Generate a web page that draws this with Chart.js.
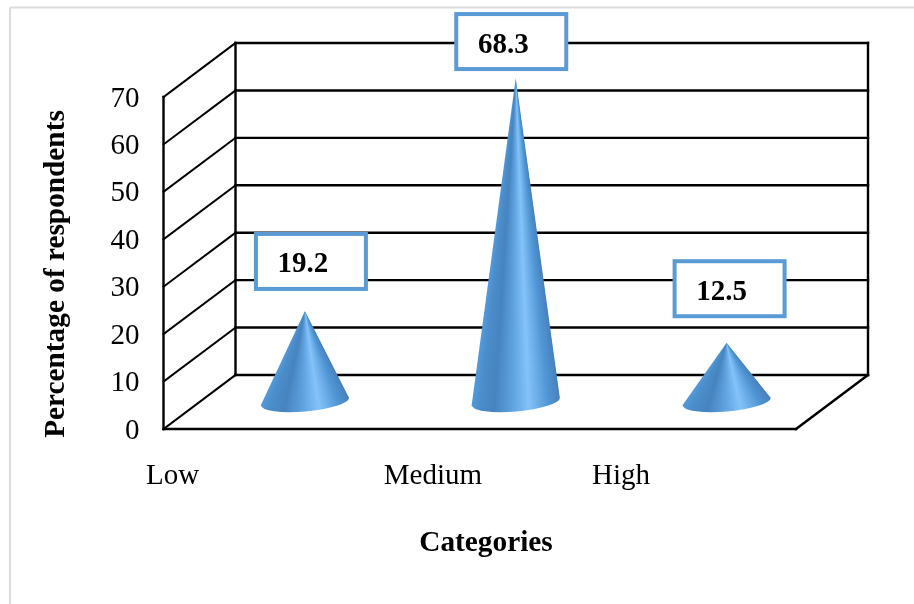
<!DOCTYPE html>
<html>
<head>
<meta charset="utf-8">
<title>Percentage of respondents by category</title>
<style>
    html, body { margin: 0; padding: 0; background: #fff; }
    canvas { display: block; }
</style>
<script src="https://cdn.jsdelivr.net/npm/chart.js@4"></script>
</head>
<body>
<canvas id="chart1" width="914" height="604"></canvas>
<script>
const categories = ['Low', 'Medium', 'High'];
const percentages = [19.2, 68.3, 12.5];

const FONT = '"Liberation Serif", "Times New Roman", serif';
const DEPTH_X = 72;   // how far the back wall sits from the front plane
const DEPTH_Y = -54;
const BOX_BLUE = '#5b9bd5';

// horizontal shift of each category label away from its tick
const labelShift = [-96.4, -46.8, -69.6];
// value box centre relative to the tip of its cone
const boxShift = [[6, -49.5], [-4.5, -36.5], [3, -54]];

// shading across the cone, from right edge to left edge
const coneShades = [
    [0, '#4680bd'],
    [0.14, '#5196d5'],
    [0.36, '#84c3fa'],
    [0.52, '#62a6e3'],
    [0.74, '#4684bf'],
    [0.9, '#4b8dca'],
    [1, '#5399da']
];

function line(ctx, x1, y1, x2, y2) {
    ctx.beginPath();
    ctx.moveTo(x1, y1);
    ctx.lineTo(x2, y2);
    ctx.stroke();
}

function drawCone(ctx, cx, baseY, tipY, halfWidth) {
    const tilt = -5 * Math.PI / 180;
    const ry = 10;
    const rightX = cx + halfWidth * Math.cos(tilt);
    const rightY = baseY + halfWidth * Math.sin(tilt);
    const leftX = cx - halfWidth * Math.cos(tilt);
    const leftY = baseY - halfWidth * Math.sin(tilt);

    // shade runs around the tip so the highlight narrows towards the point
    const a1 = Math.atan2(rightY - tipY, rightX - cx);
    const a2 = Math.atan2(leftY - tipY, leftX - cx);
    const sweep = (a2 - a1) / (2 * Math.PI);
    const grad = ctx.createConicGradient(a1, cx, tipY);
    coneShades.forEach(s => grad.addColorStop(s[0] * sweep, s[1]));
    grad.addColorStop(Math.min(sweep + 0.001, 1), coneShades[6][1]);

    ctx.beginPath();
    ctx.moveTo(cx, tipY);
    ctx.lineTo(rightX, rightY);
    ctx.ellipse(cx, baseY, halfWidth, ry, tilt, 0, Math.PI);
    ctx.closePath();
    ctx.fillStyle = grad;
    ctx.fill();
}

const conePlugin = {
    id: 'cones',
    beforeDraw(chart) {
        const ctx = chart.ctx;
        ctx.save();
        ctx.fillStyle = '#fff';
        ctx.fillRect(0, 0, chart.width, chart.height);
        // thin page frame
        ctx.strokeStyle = '#dcdcdc';
        ctx.lineWidth = 2;
        line(ctx, 10, 7.5, 10, chart.height);
        line(ctx, 10, 7.5, chart.width, 7.5);
        ctx.restore();
    },
    beforeDatasetsDraw(chart) {
        const ctx = chart.ctx;
        const { left, right } = chart.chartArea;
        const y = chart.scales.y;
        const zero = y.getPixelForValue(0);
        const backLeft = left + DEPTH_X;
        const backRight = right + DEPTH_X;

        ctx.save();
        ctx.strokeStyle = '#000';
        ctx.lineCap = 'square';

        // grid runs along the side wall, then across the back wall
        y.ticks.forEach(t => {
            const py = y.getPixelForValue(t.value);
            ctx.lineWidth = 2;
            line(ctx, left, py, backLeft, py + DEPTH_Y);
            ctx.lineWidth = 2.4;
            line(ctx, backLeft, py + DEPTH_Y, backRight, py + DEPTH_Y);
        });

        const top = y.getPixelForValue(y.max);
        line(ctx, left, top, left, zero);
        line(ctx, backLeft, top + DEPTH_Y, backLeft, zero + DEPTH_Y);
        line(ctx, backRight, top + DEPTH_Y, backRight, zero + DEPTH_Y);

        // floor edges
        line(ctx, left, zero, right, zero);
        line(ctx, right, zero, backRight, zero + DEPTH_Y);
        ctx.restore();
    },
    afterDatasetsDraw(chart) {
        const ctx = chart.ctx;
        const bars = chart.getDatasetMeta(0).data;
        const values = chart.data.datasets[0].data;

        ctx.save();
        bars.forEach((bar, i) => {
            const p = bar.getProps(['x', 'y', 'base', 'width'], true);
            const cx = p.x + DEPTH_X / 2;
            const baseY = p.base + DEPTH_Y / 2;
            const tipY = p.y + DEPTH_Y / 2;
            drawCone(ctx, cx, baseY - 0.5, tipY, p.width / 2);

            // value box
            const bx = cx + boxShift[i][0];
            const by = tipY + boxShift[i][1];
            ctx.fillStyle = '#fff';
            ctx.strokeStyle = BOX_BLUE;
            ctx.lineWidth = 4;
            ctx.fillRect(bx - 55, by - 27.5, 110, 55);
            ctx.strokeRect(bx - 55, by - 27.5, 110, 55);

            ctx.fillStyle = '#000';
            ctx.font = 'bold 29px ' + FONT;
            ctx.textAlign = 'center';
            ctx.textBaseline = 'alphabetic';
            ctx.fillText(values[i].toFixed(1), bx - 8, by + 11);
        });
        ctx.restore();
    },
    afterDraw(chart) {
        const ctx = chart.ctx;
        const x = chart.scales.x;
        const y = chart.scales.y;

        ctx.save();
        ctx.fillStyle = '#000';
        ctx.textBaseline = 'alphabetic';
        ctx.textAlign = 'center';

        // category labels
        ctx.font = '29px ' + FONT;
        x.getLabels().forEach((label, i) => {
            ctx.fillText(label, x.getPixelForTick(i) + labelShift[i], 484);
        });

        // axis titles
        ctx.font = 'bold 29.3px ' + FONT;
        ctx.fillText(x.options.title.text, 486, 551);
        ctx.translate(64, 274);
        ctx.rotate(-Math.PI / 2);
        ctx.fillText(y.options.title.text, 0, 0);
        ctx.restore();
    }
};

new Chart(document.getElementById('chart1'), {
    type: 'bar',
    data: {
        labels: categories,
        datasets: [{
            label: 'Percentage of respondents',
            data: percentages,
            backgroundColor: 'rgba(0, 0, 0, 0)',
            categoryPercentage: 1,
            barPercentage: 0.42
        }]
    },
    options: {
        responsive: false,
        animation: false,
        layout: { padding: { left: 0, top: 97, right: 118, bottom: 175 } },
        plugins: {
            legend: { display: false },
            tooltip: { enabled: false }
        },
        scales: {
            x: {
                title: { display: false, text: 'Categories' },
                grid: { display: false, drawTicks: false },
                border: { display: false },
                ticks: { display: false },
                afterFit(scale) { scale.height = 0; }
            },
            y: {
                min: 0,
                max: 70,
                title: { display: false, text: 'Percentage of respondents' },
                grid: { display: false, drawTicks: false },
                border: { display: false },
                ticks: {
                    stepSize: 10,
                    padding: 24,
                    labelOffset: 2,
                    color: '#000',
                    font: { family: FONT, size: 29 }
                },
                afterFit(scale) { scale.width = 163.5; }
            }
        }
    },
    plugins: [conePlugin]
});
</script>
</body>
</html>
